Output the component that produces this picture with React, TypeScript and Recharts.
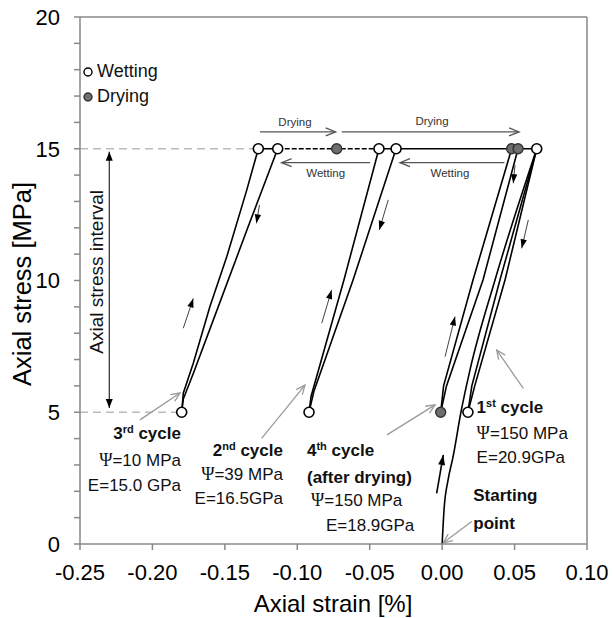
import React from 'react';
import { ComposedChart, Line, Scatter, XAxis, YAxis, ReferenceLine, ReferenceDot, Legend } from 'recharts';

const FONT = '"Liberation Sans", Arial, Helvetica, sans-serif';
const SERIF = '"Liberation Serif", "Times New Roman", serif';

// ---------- axis ticks ----------
const xTicks = [-0.25, -0.2, -0.15, -0.1, -0.05, 0, 0.05, 0.1];
const yTicks = [0, 1, 2, 3, 4, 5, 6, 7, 8, 9, 10, 11, 12, 13, 14, 15, 16, 17, 18, 19, 20];

// ---------- measured curves (strain %, stress MPa) ----------
const startStrain = [0, 0.0013, 0.0041, 0.0075, 0.013, 0.0192, 0.0365, 0.0653];
const startStress = [0, 1.29, 2.43, 3.3, 5.01, 6.6, 10.02, 15];

const c1UnloadStrain = [0.0653, 0.0434, 0.0225, 0.0178];
const c1UnloadStress = [15, 10.02, 6, 5];
const c1ReloadStrain = [0.0178, 0.0205, 0.0399, 0.0653];
const c1ReloadStress = [5, 6, 10.02, 15];

const c2UnloadStrain = [-0.0318, -0.0615, -0.0885, -0.0919];
const c2UnloadStress = [15, 10.02, 5.8, 5];
const c2ReloadStrain = [-0.0919, -0.0905, -0.0678, -0.0436];
const c2ReloadStress = [5, 5.6, 10.02, 15];

const c3UnloadStrain = [-0.1135, -0.1342, -0.1546, -0.1716, -0.1787, -0.1798];
const c3UnloadStress = [15, 12, 9, 6.5, 5.5, 5];
const c3ReloadStrain = [-0.1798, -0.1787, -0.1718, -0.1603, -0.1487, -0.1349, -0.1269];
const c3ReloadStress = [5, 5.72, 6.86, 9.01, 10.9, 13.43, 15];

const c4UnloadStrain = [0.0524, 0.0282, 0.003, -0.001];
const c4UnloadStress = [15, 10.02, 6, 5];
const c4ReloadStrain = [-0.001, 0.001, 0.0213, 0.048];
const c4ReloadStress = [5, 6, 10.02, 15];

const holdAStrain = [-0.1269, -0.1135];
const holdAStress = [15, 15];
const holdDashStrain = [-0.1135, -0.0436];
const holdDashStress = [15, 15];
const holdBStrain = [-0.0436, 0.0653];
const holdBStress = [15, 15];

const wettingStrain = [-0.1269, -0.1135, -0.0436, -0.0318, 0.0653, -0.1798, -0.0919, 0.0178];
const wettingStress = [15, 15, 15, 15, 15, 5, 5, 5];
const dryingStrain = [-0.0728, 0.048, 0.0524, -0.001];
const dryingStress = [15, 15, 15, 5];

const legendLabels = ['Wetting', 'Drying'];

const zip = (xs: number[], ys: number[]) => xs.map((x, i) => ({ x, y: ys[i] }));

const curves = [
  zip(c1UnloadStrain, c1UnloadStress),
  zip(c1ReloadStrain, c1ReloadStress),
  zip(c2UnloadStrain, c2UnloadStress),
  zip(c2ReloadStrain, c2ReloadStress),
  zip(c3UnloadStrain, c3UnloadStress),
  zip(c3ReloadStrain, c3ReloadStress),
  zip(c4UnloadStrain, c4UnloadStress),
  zip(c4ReloadStrain, c4ReloadStress),
  zip(holdAStrain, holdAStress),
  zip(holdBStrain, holdBStress),
];

// ---------- annotations (in data units) ----------
type Seg = [number, number, number, number];
const dryArrows: Seg[] = [
  [-0.1257, 15.64, -0.0735, 15.64],
  [-0.0693, 15.64, 0.0531, 15.64],
];
const wetArrows: Seg[] = [
  [-0.0498, 14.47, -0.1108, 14.47],
  [0.043, 14.47, -0.0291, 14.47],
];
const flowArrows: Seg[] = [
  [-0.1787, 8.19, -0.1718, 9.32],
  [-0.1261, 12.87, -0.1282, 12.17],
  [-0.0831, 8.38, -0.0763, 9.64],
  [-0.0372, 13.06, -0.0434, 11.92],
  [0.002, 7.11, 0.0089, 8.63],
  [0.0503, 14.38, 0.0491, 13.69],
  [0.0595, 12.3, 0.0549, 11.22],
];
const startArrow: Seg = [-0.0038, 1.92, 0.0008, 3.38];
const pointerArrows: Seg[] = [
  [-0.2086, 4.71, -0.181, 5.73],
  [-0.1246, 4.01, -0.0947, 6.03],
  [-0.0381, 4.14, -0.0049, 5.28],
  [0.056, 5.91, 0.0377, 7.36],
  [0.0204, 0.85, 0.0008, 0.05],
];
const intervalArrow: Seg = [-0.2298, 14.89, -0.2298, 5.16];

const smallLabels = [
  { x: -0.1016, y: 16.02, t: 'Drying' },
  { x: -0.007, y: 16.05, t: 'Drying' },
  { x: -0.0804, y: 14.09, t: 'Wetting' },
  { x: 0.0054, y: 14.09, t: 'Wetting' },
];

type Part = { t: string; b?: boolean; sup?: boolean; serif?: boolean };
type TextItem = { x: number; y: number; anchor: 'start' | 'end'; parts: Part[] };
const cycleTexts: TextItem[] = [
  { x: -0.1803, y: 4.21, anchor: 'end', parts: [{ t: '3', b: true }, { t: 'rd', b: true, sup: true }, { t: ' cycle', b: true }] },
  { x: -0.1803, y: 3.19, anchor: 'end', parts: [{ t: 'Ψ', serif: true }, { t: '=10 MPa' }] },
  { x: -0.1803, y: 2.24, anchor: 'end', parts: [{ t: 'E=15.0 GPa' }] },
  { x: -0.1099, y: 3.57, anchor: 'end', parts: [{ t: '2', b: true }, { t: 'nd', b: true, sup: true }, { t: ' cycle', b: true }] },
  { x: -0.1099, y: 2.66, anchor: 'end', parts: [{ t: 'Ψ', serif: true }, { t: '=39 MPa' }] },
  { x: -0.1099, y: 1.75, anchor: 'end', parts: [{ t: 'E=16.5GPa' }] },
  { x: -0.0933, y: 3.57, anchor: 'start', parts: [{ t: '4', b: true }, { t: 'th', b: true, sup: true }, { t: ' cycle', b: true }] },
  { x: -0.0933, y: 2.54, anchor: 'start', parts: [{ t: '(after drying)', b: true }] },
  { x: -0.0905, y: 1.67, anchor: 'start', parts: [{ t: 'Ψ', serif: true }, { t: '=150 MPa' }] },
  { x: -0.0802, y: 0.72, anchor: 'start', parts: [{ t: 'E=18.9GPa' }] },
  { x: 0.0238, y: 5.21, anchor: 'start', parts: [{ t: '1', b: true }, { t: 'st', b: true, sup: true }, { t: ' cycle', b: true }] },
  { x: 0.0238, y: 4.21, anchor: 'start', parts: [{ t: 'Ψ', serif: true }, { t: '=150 MPa' }] },
  { x: 0.0238, y: 3.31, anchor: 'start', parts: [{ t: 'E=20.9GPa' }] },
  { x: 0.0215, y: 1.86, anchor: 'start', parts: [{ t: 'Starting', b: true }] },
  { x: 0.0215, y: 0.79, anchor: 'start', parts: [{ t: 'point', b: true }] },
];

// ---------- shapes ----------
type ArrowOpts = { color: string; width: number; hl: number; hw: number; open: boolean; both?: boolean; headColor?: string };
const makeArrow = (o: ArrowOpts) => (props: any) => {
  const { x1, y1, x2, y2 } = props;
  const dx = x2 - x1;
  const dy = y2 - y1;
  const len = Math.hypot(dx, dy) || 1;
  const ux = dx / len;
  const uy = dy / len;
  const head = (tx: number, ty: number, vx: number, vy: number, key: string) => {
    const bx = tx - vx * o.hl;
    const by = ty - vy * o.hl;
    const px = -vy * o.hw;
    const py = vx * o.hw;
    if (o.open) {
      return (
        <polyline key={key} points={`${bx + px},${by + py} ${tx},${ty} ${bx - px},${by - py}`} fill="none" stroke={o.color} strokeWidth={o.width} />
      );
    }
    return <polygon key={key} points={`${tx},${ty} ${bx + px},${by + py} ${bx - px},${by - py}`} fill={o.headColor || o.color} stroke="none" />;
  };
  return (
    <g>
      <line x1={x1} y1={y1} x2={x2} y2={y2} stroke={o.color} strokeWidth={o.width} />
      {head(x2, y2, ux, uy, 'e')}
      {o.both ? head(x1, y1, -ux, -uy, 's') : null}
    </g>
  );
};

const dryWetArrow = makeArrow({ color: '#555', width: 1.3, hl: 10, hw: 4, open: true });
const flowArrowShape = makeArrow({ color: '#444', width: 1, hl: 9, hw: 3.2, open: false, headColor: '#000' });
const startArrowShape = makeArrow({ color: '#000', width: 1.6, hl: 10, hw: 3.5, open: false });
const pointerShape = makeArrow({ color: '#9a9a9a', width: 1.3, hl: 9, hw: 4, open: true });
const intervalShape = makeArrow({ color: '#000', width: 1, hl: 9, hw: 3.5, open: false, both: true });

const smallTextShape = (t: string) => (props: any) => (
  <text x={props.cx} y={props.cy} dy="0.35em" textAnchor="middle" fontFamily={FONT} fontSize={11.5} fill="#333">
    {t}
  </text>
);

const cycleTextShape = (item: TextItem) => (props: any) => (
  <text x={props.cx} y={props.cy} dy="0.35em" textAnchor={item.anchor} fontFamily={FONT} fontSize={17} fill="#111">
    {item.parts.map((p, i) => {
      const prevSup = i > 0 && item.parts[i - 1].sup;
      const dy = p.sup ? -6 : prevSup ? 6 : undefined;
      return (
        <tspan
          key={i}
          dy={dy}
          fontWeight={p.b ? 'bold' : 'normal'}
          fontSize={p.sup ? 11 : p.serif ? 18 : 17}
          fontFamily={p.serif ? SERIF : FONT}
        >
          {p.t}
        </tspan>
      );
    })}
  </text>
);

const wettingMarker = (props: any) => (
  <circle cx={props.cx} cy={props.cy} r={5} fill="#fff" stroke="#000" strokeWidth={1.6} />
);
const dryingMarker = (props: any) => (
  <circle cx={props.cx} cy={props.cy} r={5} fill="#6e6e6e" stroke="#333" strokeWidth={1.4} />
);

const LegendContent = () => (
  <div style={{ fontFamily: FONT, fontSize: 18, color: '#111' }}>
    {legendLabels.map((lab, i) => (
      <div key={lab} style={{ display: 'flex', alignItems: 'center', height: 25 }}>
        <svg width={10} height={10} style={{ marginRight: 4 }}>
          <circle cx={5} cy={5} r={4} fill={i === 0 ? '#fff' : '#6e6e6e'} stroke={i === 0 ? '#000' : '#333'} strokeWidth={1.4} />
        </svg>
        <span>{lab}</span>
      </div>
    ))}
  </div>
);

const seg = (s: Seg) => [
  { x: s[0], y: s[1] },
  { x: s[2], y: s[3] },
] as any;

export default function App() {
  return (
    <div style={{ position: 'fixed', left: 0, top: 0, background: '#fff' }}>
      <ComposedChart width={613} height={618} margin={{ top: 17, right: 26, left: 20, bottom: 14 }}>
        <XAxis
          type="number"
          dataKey="x"
          domain={[-0.25, 0.1]}
          ticks={xTicks}
          tickFormatter={(v: number) => v.toFixed(2)}
          tick={{ fontSize: 22, fill: '#000', fontFamily: FONT }}
          tickSize={6}
          tickMargin={14}
          height={60}
          stroke="#888"
          strokeWidth={1.5}
          allowDataOverflow
          label={{
            content: () => (
              <text x={333} y={612} textAnchor="middle" fontFamily={FONT} fontSize={24} fill="#000">
                Axial strain [%]
              </text>
            ),
          }}
        />
        <YAxis
          type="number"
          domain={[0, 20]}
          ticks={yTicks}
          interval={0}
          tickFormatter={(v: number) => (v % 5 === 0 ? String(v) : '')}
          tick={{ fontSize: 22, fill: '#000', fontFamily: FONT }}
          tickSize={6}
          tickMargin={14}
          width={60}
          stroke="#888"
          strokeWidth={1.5}
          allowDataOverflow
          label={{
            content: () => (
              <text
                x={22}
                y={284}
                transform="rotate(-90 22 284)"
                textAnchor="middle"
                dominantBaseline="central"
                fontFamily={FONT}
                fontSize={25.5}
                fill="#000"
              >
                Axial stress [MPa]
              </text>
            ),
          }}
        />
        <ReferenceLine y={20} stroke="#888" strokeWidth={1.5} />
        <ReferenceLine x={0.1} stroke="#888" strokeWidth={1.5} />
        <ReferenceLine segment={[{ x: -0.25, y: 15 }, { x: -0.1269, y: 15 }]} stroke="#bbb" strokeWidth={1.5} strokeDasharray="8 5" />
        <ReferenceLine segment={[{ x: -0.25, y: 5 }, { x: -0.1798, y: 5 }]} stroke="#bbb" strokeWidth={1.5} strokeDasharray="8 5" />

        <Line
          data={zip(startStrain, startStress)}
          dataKey="y"
          type="monotoneX"
          stroke="#000"
          strokeWidth={1.6}
          dot={false}
          isAnimationActive={false}
          legendType="none"
        />
        {curves.map((d, i) => (
          <Line key={i} data={d} dataKey="y" type="linear" stroke="#000" strokeWidth={1.6} dot={false} isAnimationActive={false} legendType="none" />
        ))}
        <Line
          data={zip(holdDashStrain, holdDashStress)}
          dataKey="y"
          type="linear"
          stroke="#000"
          strokeWidth={1.6}
          strokeDasharray="5 2"
          dot={false}
          isAnimationActive={false}
          legendType="none"
        />

        {dryArrows.map((s, i) => (
          <ReferenceLine key={'d' + i} segment={seg(s)} shape={dryWetArrow} />
        ))}
        {wetArrows.map((s, i) => (
          <ReferenceLine key={'w' + i} segment={seg(s)} shape={dryWetArrow} />
        ))}
        {flowArrows.map((s, i) => (
          <ReferenceLine key={'f' + i} segment={seg(s)} shape={flowArrowShape} />
        ))}
        <ReferenceLine segment={seg(startArrow)} shape={startArrowShape} />
        {pointerArrows.map((s, i) => (
          <ReferenceLine key={'p' + i} segment={seg(s)} shape={pointerShape} />
        ))}
        <ReferenceLine segment={seg(intervalArrow)} shape={intervalShape} />

        {smallLabels.map((l, i) => (
          <ReferenceDot key={'sl' + i} x={l.x} y={l.y} r={0} shape={smallTextShape(l.t)} />
        ))}
        {cycleTexts.map((c, i) => (
          <ReferenceDot key={'ct' + i} x={c.x} y={c.y} r={0} shape={cycleTextShape(c)} />
        ))}
        <ReferenceDot
          x={-0.2385}
          y={10.33}
          r={0}
          shape={(p: any) => (
            <text
              x={p.cx}
              y={p.cy}
              transform={`rotate(-90 ${p.cx} ${p.cy})`}
              textAnchor="middle"
              dominantBaseline="central"
              fontFamily={FONT}
              fontSize={19}
              fill="#111"
            >
              Axial stress interval
            </text>
          )}
        />

        <Scatter data={zip(wettingStrain, wettingStress)} dataKey="y" shape={wettingMarker} isAnimationActive={false} legendType="none" />
        <Scatter data={zip(dryingStrain, dryingStress)} dataKey="y" shape={dryingMarker} isAnimationActive={false} legendType="none" />

        <Legend
          layout="vertical"
          align="center"
          verticalAlign="middle"
          content={<LegendContent />}
          wrapperStyle={{ left: 83, top: 59, width: 120, height: 50 }}
        />
      </ComposedChart>
    </div>
  );
}
